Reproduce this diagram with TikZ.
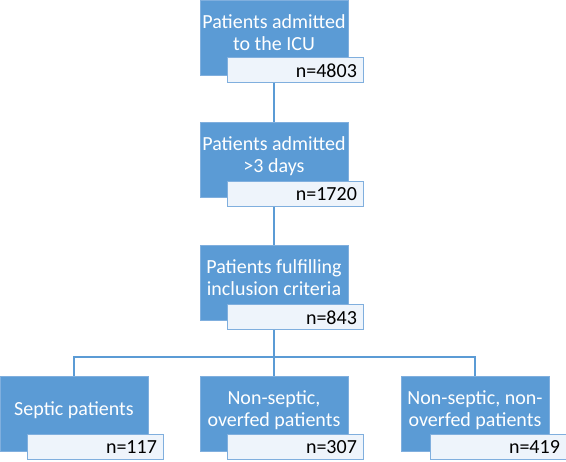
\documentclass[tikz,border=0pt]{standalone}
\usepackage{fontspec}
\setmainfont{Carlito}
\usetikzlibrary{positioning,backgrounds}
\definecolor{cBox}{RGB}{91,155,213}
\definecolor{cEdge}{RGB}{128,175,222}
\definecolor{cCount}{RGB}{238,244,251}
\definecolor{cLine}{RGB}{91,155,213}
\begin{document}
\begin{tikzpicture}[x=1pt,y=-1pt,
  stage/.style={fill=cBox,draw=cEdge,line width=0.8pt,minimum width=148pt,minimum height=75pt,inner sep=0pt,align=center,text=white,font=\fontsize{20}{22}\selectfont,text depth=10pt},
  count/.style={anchor=south east,fill=cCount,draw=cEdge,line width=1pt,text width=122pt,align=right,inner xsep=7pt,inner ysep=0pt,minimum height=25pt,font=\fontsize{20}{22}\selectfont},
  link/.style={cLine,line width=1.5pt}]
\useasboundingbox (0,0) rectangle (566,462);
\node[stage] (icu) at (274,37.5) {Patients admitted\\to the ICU};
\node[count] (nicu) at ([xshift=16pt,yshift=-8pt]icu.south east) {n=4803};
\node[stage] (days) at (274,159.5) {Patients admitted\\>3 days};
\node[count] (ndays) at ([xshift=16pt,yshift=-10pt]days.south east) {n=1720};
\node[stage] (incl) at (274,282.5) {Patients fulfilling\\inclusion criteria};
\node[count] (nincl) at ([xshift=16pt,yshift=-10pt]incl.south east) {n=843};
\node[stage] (sept) at (74,414) {Septic patients};
\node[count] (nsept) at ([xshift=16pt,yshift=-8pt]sept.south east) {n=117};
\node[stage] (over) at (274,414) {Non-septic,\\overfed patients};
\node[count] (nover) at ([xshift=16pt,yshift=-8pt]over.south east) {n=307};
\node[stage] (nonover) at (475,414) {Non-septic, non-\\overfed patients};
\node[count] (nnonover) at ([xshift=18pt,yshift=-8pt]nonover.south east) {n=419};
\begin{scope}[on background layer]
\draw[link] (icu.south) -- (days.north);
\draw[link] (days.south) -- (incl.north);
\draw[link] (incl.south) -- (over.north);
\draw[link] (sept.north) -- ++(0,-19) -| (nonover.north);
\end{scope}
\end{tikzpicture}
\end{document}
